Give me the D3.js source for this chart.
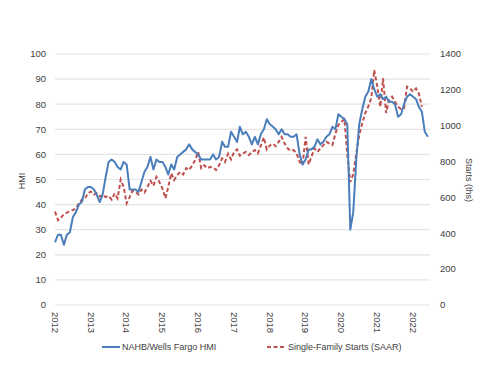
<!DOCTYPE html>
<html><head><meta charset="utf-8">
<script src="https://cdn.jsdelivr.net/npm/d3@7"></script>
<style>
body{margin:0;background:#fff}
text{font-family:"Liberation Sans",Arial,sans-serif;fill:#404040}
</style>
</head><body>
<svg id="c" width="500" height="378"></svg>
<script>
// Monthly data starting January 2012
const startYear = 2012;
const hmi = [
 25,28,28,24,28,29,35,37,40,41,46,47,
 47,46,44,41,44,51,57,58,57,55,54,57,
 56,46,46,46,45,49,53,55,59,54,58,57,
 57,55,52,56,54,59,60,61,62,64,62,61,
 60,58,58,58,58,60,58,59,65,63,63,69,
 67,65,71,68,69,67,64,67,64,68,70,74,
 72,71,70,68,70,68,68,67,67,68,60,56,
 58,62,62,63,66,64,65,67,68,71,70,76,
 75,74,72,30,37,58,72,78,83,85,90,86,
 83,84,82,83,81,81,80,75,76,80,83,84,
 83,82,79,77,69,67
];
const starts = [
 521,473,487,507,515,522,529,539,567,588,592,623,
 633,616,623,605,615,602,609,588,623,595,700,658,
 567,602,637,630,616,644,627,658,693,665,714,686,
 651,595,658,735,697,725,742,728,763,753,780,808,
 854,763,780,763,770,767,753,780,818,798,844,812,
 854,868,833,846,854,836,854,864,846,890,935,868,
 890,900,886,910,938,900,874,861,864,846,798,780,
 938,784,826,874,854,874,892,910,900,892,956,1004,
 1022,1036,840,686,728,846,948,1014,1071,1106,1154,1310,
 1218,1106,1264,1071,1144,1162,1134,1106,1092,1098,1218,1208,
 1190,1208,1180,1106
];
const leftTicks = [0,10,20,30,40,50,60,70,80,90,100];
const rightTicks = [0,200,400,600,800,1000,1200,1400];
const yearTicks = [2012,2013,2014,2015,2016,2017,2018,2019,2020,2021,2022];
const seriesNames = ["NAHB/Wells Fargo HMI","Single-Family Starts (SAAR)"];
const axisTitles = ["HMI","Starts (ths)"];

const svg = d3.select("#c");
const L = 55, R = 430, T = 54, B = 305;
const x = d3.scaleTime().domain([new Date(2012,0,1), new Date(2022,5,23)]).range([L,R]);
const yL = d3.scaleLinear().domain([0,100]).range([B,T]);
const yR = d3.scaleLinear().domain([0,1400]).range([B,T]);
const dateOf = i => new Date(startYear, i, 1);

// gridlines
svg.append("g").selectAll("line").data(leftTicks).join("line")
  .attr("x1",L).attr("x2",R)
  .attr("y1",d=>yL(d)).attr("y2",d=>yL(d))
  .attr("stroke","#e4e4e4").attr("stroke-width",1.2);

// left axis labels
svg.append("g").selectAll("text").data(leftTicks).join("text")
  .attr("x",46).attr("y",d=>yL(d)).attr("dy","0.35em")
  .attr("text-anchor","end").attr("font-size","9.5px").text(d=>d);

// right axis labels
svg.append("g").selectAll("text").data(rightTicks).join("text")
  .attr("x",440).attr("y",d=>yR(d)).attr("dy","0.35em")
  .attr("text-anchor","start").attr("font-size","9.5px").text(d=>d);

// x labels rotated
svg.append("g").selectAll("text").data(yearTicks).join("text")
  .attr("transform",d=>`translate(${x(new Date(d,0,1))},312) rotate(90)`)
  .attr("dy","0.35em").attr("text-anchor","start").attr("font-size","9.5px").text(d=>d);

// axis titles
svg.append("text").attr("transform","translate(22,181) rotate(-90)")
  .attr("text-anchor","middle").attr("dy","0.35em").attr("font-size","9px").text(axisTitles[0]);
svg.append("text").attr("transform","translate(469,180) rotate(90)")
  .attr("text-anchor","middle").attr("dy","0.35em").attr("font-size","9px").text(axisTitles[1]);

// lines
const lineL = d3.line().x((d,i)=>x(dateOf(i))).y(d=>yL(d));
const lineR = d3.line().x((d,i)=>x(dateOf(i))).y(d=>yR(d));
svg.append("path").datum(starts).attr("d",lineR).attr("fill","none")
  .attr("stroke","#c0504d").attr("stroke-width",2).attr("stroke-dasharray","4,2.5");
svg.append("path").datum(hmi).attr("d",lineL).attr("fill","none")
  .attr("stroke","#4a7ebb").attr("stroke-width",2).attr("stroke-linejoin","round");

// legend
const lg = svg.append("g");
lg.append("line").attr("x1",102).attr("x2",120).attr("y1",347).attr("y2",347)
  .attr("stroke","#4a7ebb").attr("stroke-width",2);
lg.append("text").attr("x",122).attr("y",347).attr("dy","0.35em").attr("font-size","9px").text(seriesNames[0]);
lg.append("line").attr("x1",267).attr("x2",285).attr("y1",347).attr("y2",347)
  .attr("stroke","#c0504d").attr("stroke-width",2).attr("stroke-dasharray","4,2.5");
lg.append("text").attr("x",288).attr("y",347).attr("dy","0.35em").attr("font-size","9px").text(seriesNames[1]);
</script>
</body></html>
